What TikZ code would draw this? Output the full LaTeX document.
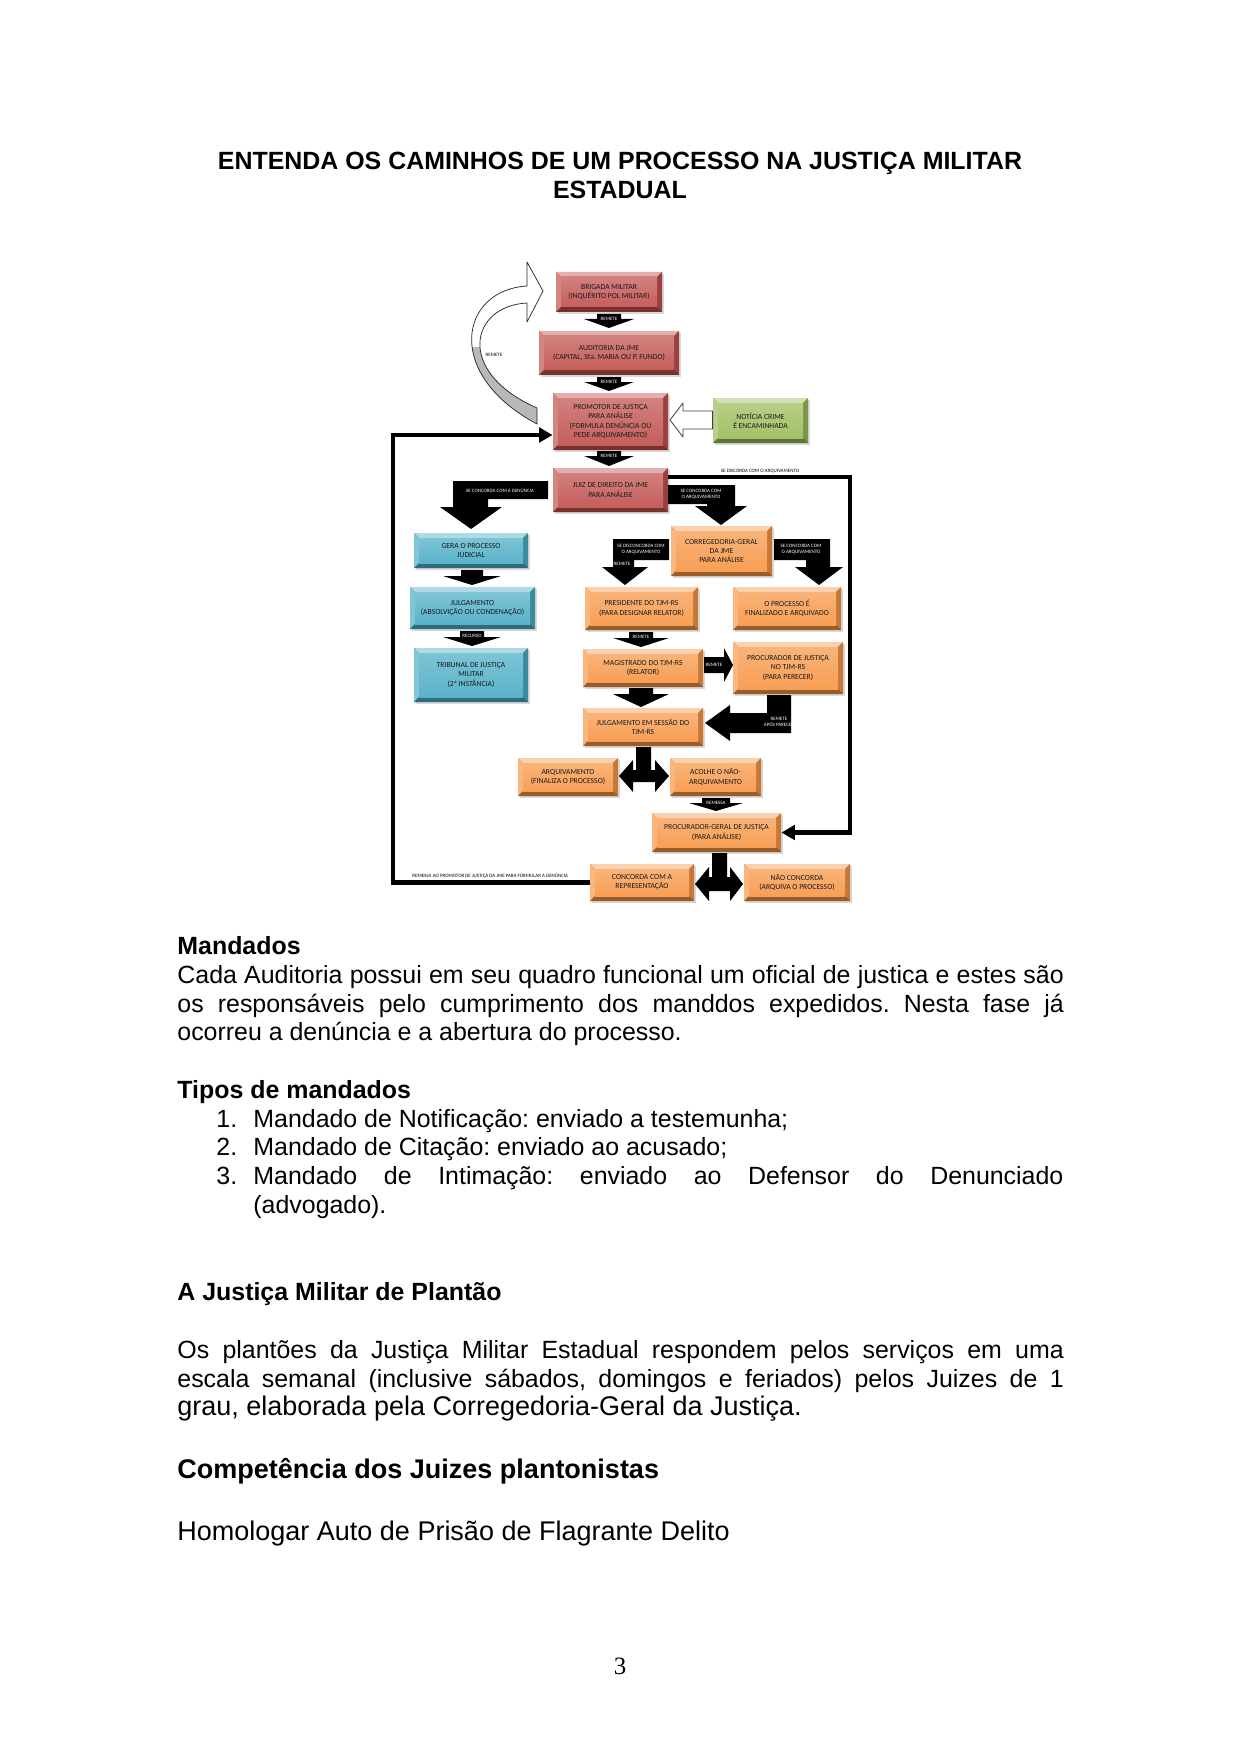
\documentclass[tikz,border=0pt]{standalone}
\usepackage{fontspec}
\setmainfont{Liberation Sans}
\newfontfamily\carlito{Carlito}
\newfontfamily\tnr{Liberation Serif}
\usetikzlibrary{fit,arrows.meta}
\definecolor{ofred}{HTML}{C0504D}
\definecolor{ofblue}{HTML}{4BACC6}
\definecolor{oforange}{HTML}{F79646}
\definecolor{ofgreen}{HTML}{9BBB59}
\frenchspacing
% bevelled box: name, x1, y1, x2, y2, colour, text
\newcommand\bvbox[7]{%
  \fill[black!15] (#2+2,#3+2) rectangle (#4+2,#5+2);
  \fill[#6!75!black] (#2,#3) rectangle (#4,#5);
  \fill[#6!45!white] (#2,#3) -- (#4,#3) -- (#4-5,#3+5) -- (#2+5,#3+5) -- cycle;
  \fill[#6!70!white] (#2,#3) -- (#2+5,#3+5) -- (#2+5,#5-5) -- (#2,#5) -- cycle;
  \fill[#6!80!black] (#4,#3) -- (#4,#5) -- (#4-5,#5-5) -- (#4-5,#3+5) -- cycle;
  \fill[#6!62!black] (#2,#5) -- (#4,#5) -- (#4-5,#5-5) -- (#2+5,#5-5) -- cycle;
  \shade[top color=#6!72!white, bottom color=#6!92!white] (#2+5,#3+5) rectangle (#4-5,#5-5);
  \node[fit={(#2,#3) (#4,#5)}, inner sep=0pt] (#1) {};
  \node[boxtxt] at (#1.center) {#7};
}
% black block arrow pointing down: cx, ytop, yhead, ytip, shaft half width, head half width
\newcommand\blkdown[6]{%
  \fill[black] (#1-#5,#2) -- (#1+#5,#2) -- (#1+#5,#3) -- (#1+#6,#3) -- (#1,#4)
     -- (#1-#6,#3) -- (#1-#5,#3) -- cycle;
}
\begin{document}
\begin{tikzpicture}[x=0.0169218cm,y=-0.0169218cm,
  boxtxt/.style={font=\carlito\fontsize{3.7}{4.4}\selectfont, align=center, text=black!90, inner sep=0pt},
  arrlbl/.style={font=\carlito\fontsize{2.4}{2.9}\selectfont, align=center, text=white, inner sep=0pt},
  blklbl/.style={font=\carlito\fontsize{2.4}{2.9}\selectfont, align=center, text=black, inner sep=0pt},
  body/.style={anchor=base west, inner sep=0pt, font=\fontsize{12}{13.8}\selectfont},
  thickln/.style={line width=2.2pt, draw=black}]
\useasboundingbox[fill=white] (0,0) rectangle (1241,1755);

% ---------- title ----------
\node[anchor=base, inner sep=0pt, font=\bfseries\fontsize{12}{14}\selectfont] (t1) at (620,170) {ENTENDA OS CAMINHOS DE UM PROCESSO NA JUSTIÇA MILITAR};
\node[anchor=base, inner sep=0pt, font=\bfseries\fontsize{12}{14}\selectfont] (t2) at (620,199) {ESTADUAL};

\coordinate (rl) at (850,477);
\coordinate (ll) at (393,435);

% ---------- boxes ----------
\bvbox{brig}{556}{272}{662}{312}{ofred}{BRIGADA MILITAR\\(INQUÉRITO POL MILITAR)}
\bvbox{aud}{539}{331}{679}{375}{ofred}{AUDITORIA DA JME\\(CAPITAL, Sta. MARIA OU P. FUNDO)}
\bvbox{prom}{553}{393}{668}{450}{ofred}{PROMOTOR DE JUSTIÇA\\PARA ANÁLISE\\(FORMULA DENÚNCIA OU\\PEDE ARQUIVAMENTO)}
\bvbox{noti}{713}{398}{808}{443}{ofgreen}{NOTÍCIA CRIME\\É ENCAMINHADA}
\bvbox{juiz}{553}{468}{668}{512}{ofred}{JUIZ DE DIREITO DA JME\\PARA ANÁLISE}
\bvbox{gera}{414}{533}{528}{568}{ofblue}{GERA O PROCESSO\\JUDICIAL}
\bvbox{julg}{410}{587}{535}{629}{ofblue}{JULGAMENTO\\(ABSOLVIÇÃO OU CONDENAÇÃO)}
\bvbox{trib}{414}{648}{528}{702}{ofblue}{TRIBUNAL DE JUSTIÇA\\MILITAR\\(2ª INSTÂNCIA)}
\bvbox{corr}{671}{526}{772}{576}{oforange}{CORREGEDORIA-GERAL\\DA JME\\PARA ANÁLISE}
\bvbox{pres}{585}{587}{698}{630}{oforange}{PRESIDENTE DO TJM-RS\\(PARA DESIGNAR RELATOR)}
\bvbox{fina}{733}{587}{841}{630}{oforange}{O PROCESSO É\\FINALIZADO E ARQUIVADO}
\bvbox{magi}{583}{649}{703}{687}{oforange}{MAGISTRADO DO TJM-RS\\(RELATOR)}
\bvbox{ptjm}{733}{642}{843}{694}{oforange}{PROCURADOR DE JUSTIÇA\\NO TJM-RS\\(PARA PERECER)}
\bvbox{sess}{583}{708}{703}{746}{oforange}{JULGAMENTO EM SESSÃO DO\\TJM-RS}
\bvbox{arqu}{518}{758}{618}{796}{oforange}{ARQUIVAMENTO\\(FINALIZA O PROCESSO)}
\bvbox{acol}{670}{758}{761}{796}{oforange}{ACOLHE O NÃO-\\ARQUIVAMENTO}
\bvbox{pg}{652}{813}{781}{852}{oforange}{PROCURADOR-GERAL DE JUSTIÇA\\(PARA ANÁLISE)}
\bvbox{conc}{590}{864}{694}{901}{oforange}{CONCORDA COM A\\REPRESENTAÇÃO}
\bvbox{naoc}{744}{864}{850}{901}{oforange}{NÃO CONCORDA\\(ARQUIVA O PROCESSO)}

% ---------- thick line connectors ----------
\draw[thickln, -{Triangle[length=6.5pt,width=7pt]}] (juiz.east |- rl) -- (rl) |- (pg.east);
\node[blklbl] (lsd) at (760,471) {SE DISCORDA COM O ARQUIVAMENTO};
\draw[thickln, -{Triangle[length=6.5pt,width=7pt]}] (conc.west) -| (ll) -- (prom.west |- ll);
\node[blklbl, anchor=west] (lrem) at (412,876) {REMESSA AO PROMOTOR DE JUSTIÇA DA JME PARA FORMULAR A DENÚNCIA};

% ---------- curved arrow (remete) ----------
\path[fill=white] (537,424) .. controls (443,374) and (460,290) .. (527,286) -- (527,262) -- (543,291)
   -- (527,322) -- (527,303) .. controls (470,306) and (455,372) .. (537,408) -- cycle;
\begin{scope}
  \clip (400,348) rectangle (560,440);
  \path[fill=black!28] (537,424) .. controls (443,374) and (460,290) .. (527,286) -- (527,262) -- (543,291)
   -- (527,322) -- (527,303) .. controls (470,306) and (455,372) .. (537,408) -- cycle;
\end{scope}
\draw[black!85, line width=0.35pt, line join=round] (537,424) .. controls (443,374) and (460,290) .. (527,286) -- (527,262) -- (543,291)
   -- (527,322) -- (527,303) .. controls (470,306) and (455,372) .. (537,408) -- cycle;
\node[blklbl] (lcur) at (494,355) {REMETE};

% ---------- white arrow notícia -> promotor ----------
\filldraw[fill=white, draw=black!75, line width=0.4pt, line join=round]
  (noti.west |- 0,411) -- (683,411) -- (683,403) -- (670,420) -- (683,437) -- (683,429) -- (noti.west |- 0,429) -- cycle;

% ---------- small block arrows ----------
\blkdown{609}{314}{319}{328}{12}{25}
\node[arrlbl] at (609,318.5) {REMETE};
\blkdown{609}{377}{382}{391}{12}{25}
\node[arrlbl] at (609,381.5) {REMETE};
\blkdown{609}{451}{456}{466}{12}{25}
\node[arrlbl] at (609,455.5) {REMETE};
\blkdown{472}{570}{576}{585}{11}{29}
\blkdown{472}{631}{637}{646}{12}{29}
\node[arrlbl] at (472,635.5) {RECURSO};
\blkdown{641}{632}{638}{647}{12}{28}
\node[arrlbl] at (641,636.5) {REMETE};
\blkdown{641}{688}{694}{707}{12}{28}
\blkdown{716}{798}{803}{811}{14}{27}
\node[arrlbl] at (716,802.5) {REMESSA};

% ---------- big labelled arrows ----------
\fill[black] (453,481) -- (548,481) -- (548,499) -- (488,499) -- (488,507) -- (502,507) -- (471,529)
   -- (440,507) -- (453,507) -- cycle;
\node[arrlbl] at (500,490) {SE CONCORDA COM A DENÚNCIA};

\fill[black] (668,485) -- (735,485) -- (735,506) -- (747,506) -- (721,525) -- (695,506) -- (707,506)
   -- (707,504) -- (668,504) -- cycle;
\node[arrlbl] at (701,494.5) {SE CONCORDA COM\\O ARQUIVAMENTO};

\fill[black] (613,539) -- (669,539) -- (669,560) -- (634,560) -- (634,567) -- (648,567) -- (625,585)
   -- (602,567) -- (613,567) -- cycle;
\node[arrlbl] at (641,549.5) {SE DISCONCORDA COM\\O ARQUIVAMENTO};
\node[arrlbl] at (622,564) {REMETE};

\fill[black] (774,539) -- (830,539) -- (830,567) -- (843,567) -- (819,585) -- (795,567) -- (806,567)
   -- (806,560) -- (774,560) -- cycle;
\node[arrlbl] at (801,549.5) {SE CONCORDA COM\\O ARQUIVAMENTO};

% magistrado -> procurador TJM
\fill[black] (704,657) -- (724,657) -- (724,648) -- (733,665) -- (724,682) -- (724,673) -- (704,673) -- cycle;
\node[arrlbl] at (714,665) {REMETE};

% procurador TJM -> julgamento em sessão
\fill[black] (767,695) -- (791,695) -- (791,733) -- (730,733) -- (730,741) -- (705,723) -- (730,705)
   -- (730,713) -- (767,713) -- cycle;
\node[arrlbl] at (779,722) {REMETE\\APÓS PARECER};

% T arrows
\fill[black] (636,747) -- (651,747) -- (651,770) -- (655,770) -- (655,760) -- (669,776) -- (655,792)
   -- (655,782) -- (633,782) -- (633,792) -- (619,776) -- (633,760) -- (633,770) -- (636,770) -- cycle;
\fill[black] (712,853) -- (727,853) -- (727,877) -- (730,877) -- (730,867) -- (743,884) -- (730,901)
   -- (730,891) -- (709,891) -- (709,901) -- (695,884) -- (709,867) -- (709,877) -- (712,877) -- cycle;

% ---------- body text ----------
\node[body] (m1) at (177,954) {\bfseries Mandados};
\node[body] (m2) at (177,983) {\makebox[15cm][s]{Cada Auditoria possui em seu quadro funcional um oficial de justica e estes são}};
\node[body] (m3) at (177,1012) {\makebox[15cm][s]{os responsáveis pelo cumprimento dos manddos expedidos. Nesta fase já}};
\node[body] (m4) at (177,1040) {ocorreu a denúncia e a abertura do processo.};
\node[body] (tp) at (177,1098) {\bfseries Tipos de mandados};
\node[body] (n1) at (216,1127) {1.};
\node[body] (i1) at (253,1127) {Mandado de Notificação: enviado a testemunha;};
\node[body] (n2) at (216,1155) {2.};
\node[body] (i2) at (253,1155) {Mandado de Citação: enviado ao acusado;};
\node[body] (n3) at (216,1184) {3.};
\node[body] (i3) at (253,1184) {\makebox[13.707cm][s]{Mandado de Intimação: enviado ao Defensor do Denunciado}};
\node[body] (i3b) at (253,1213) {(advogado).};
\node[body] (jm) at (177,1300) {\bfseries A Justiça Militar de Plantão};
\node[body] (p1) at (177,1358) {\makebox[15cm][s]{Os plantões da Justiça Militar Estadual respondem pelos serviços em uma}};
\node[body] (p2) at (177,1387) {\makebox[15cm][s]{escala semanal (inclusive sábados, domingos e feriados) pelos Juizes de 1}};
\node[body, font=\fontsize{13}{15}\selectfont] (p3) at (177,1415) {grau, elaborada pela Corregedoria-Geral da Justiça.};
\node[body, font=\bfseries\fontsize{13}{15}\selectfont] (cp) at (177,1478) {Competência dos Juizes plantonistas};
\node[body, font=\fontsize{13}{15}\selectfont] (hm) at (177,1540) {Homologar Auto de Prisão de Flagrante Delito};
\node[anchor=base, inner sep=0pt, font=\tnr\fontsize{12}{14}\selectfont] (pn) at (620,1674) {3};
\end{tikzpicture}
\end{document}
